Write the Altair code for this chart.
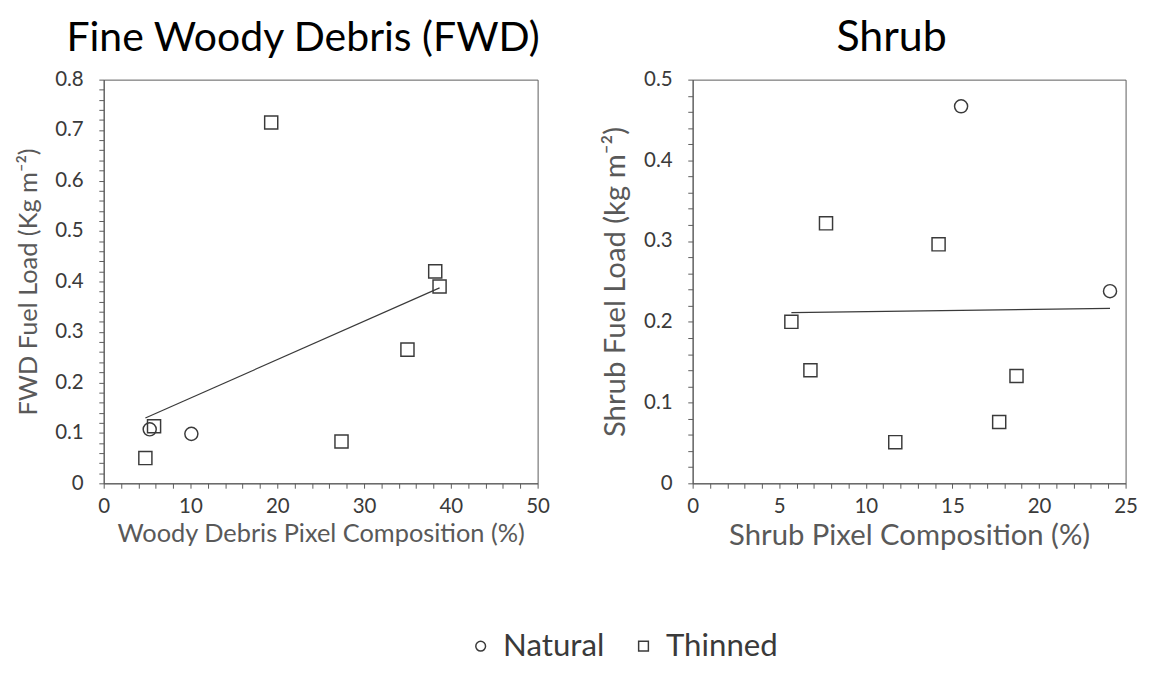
import altair as alt
import pandas as pd

# ---- data ----
groups = ["Thinned"] * 7 + ["Natural"] * 2
legend_labels = ["Natural", "Thinned"]
legend_shapes = ["circle", "square"]

fwd_x = [4.8, 5.8, 19.3, 27.4, 35.0, 38.2, 38.7, 5.3, 10.1]
fwd_y = [0.050, 0.113, 0.715, 0.083, 0.265, 0.420, 0.390, 0.107, 0.098]

shrub_x = [5.7, 6.8, 7.7, 11.7, 14.2, 17.7, 18.7, 15.5, 24.1]
shrub_y = [0.200, 0.140, 0.322, 0.051, 0.296, 0.076, 0.133, 0.467, 0.238]

fwd_x_ticks = [0, 2, 4, 6, 8, 10, 12, 14, 16, 18, 20, 22, 24, 26, 28, 30, 32, 34, 36, 38, 40, 42, 44, 46, 48, 50]
fwd_y_ticks = [round(i * 0.02, 2) for i in range(41)]
shrub_x_ticks = list(range(0, 26))
shrub_y_ticks = [round(i * 0.02, 2) for i in range(26)]

FONT = "Lato"
INK = "#3a3a3a"
AXIS = "#595959"

SHAPE_SCALE = alt.Scale(domain=legend_labels, range=legend_shapes)


def panel(xs, ys, title, xtitle, ytitle, xdom, ydom, xticks, yticks, xmaj, w, h,
          title_size, axis_title_size):
    df = pd.DataFrame({"x": xs, "y": ys, "group": groups})
    x_enc = alt.X(
        "x:Q",
        scale=alt.Scale(domain=xdom, nice=False, zero=True),
        axis=alt.Axis(
            values=xticks,
            labelExpr=f"datum.value % {xmaj} == 0 ? datum.label : ''",
            title=xtitle,
            titleFontSize=axis_title_size,
            titlePadding=5,
            labelPadding=8,
            labelFlush=False,
        ),
    )
    y_enc = alt.Y(
        "y:Q",
        scale=alt.Scale(domain=ydom, nice=False, zero=True),
        axis=alt.Axis(
            values=yticks,
            format="~g",
            labelExpr="round(datum.value * 100) % 10 == 0 ? datum.label : ''",
            title=ytitle,
            titleFontSize=axis_title_size,
            titlePadding=14,
            labelPadding=16,
        ),
    )
    base = alt.Chart(df)
    pts = base.mark_point(filled=False, size=180, strokeWidth=1.5, color=INK, opacity=1).encode(
        x=x_enc,
        y=y_enc,
        shape=alt.Shape("group:N", scale=SHAPE_SCALE, legend=None),
    )
    line = base.transform_regression("x", "y").mark_line(color=INK, strokeWidth=1.2).encode(
        x=x_enc, y=y_enc
    )
    return alt.layer(pts, line).properties(
        width=w,
        height=h,
        title=alt.TitleParams(
            title, fontSize=title_size, font=FONT, fontWeight="normal", color="black",
            anchor="middle", offset=9, dx=-18,
        ),
    )


left = panel(fwd_x, fwd_y, "Fine Woody Debris (FWD)", "Woody Debris Pixel Composition (%)",
             "FWD Fuel Load (Kg m⁻²)", [0, 50], [0, 0.8], fwd_x_ticks, fwd_y_ticks, 10,
             445, 414, 42, 26)
right = panel(shrub_x, shrub_y, "Shrub", "Shrub Pixel Composition (%)",
              "Shrub Fuel Load (kg m⁻²)", [0, 25], [0, 0.5], shrub_x_ticks, shrub_y_ticks, 5,
              444, 414, 44, 30)

# ---- key (Natural / Thinned) drawn from the category list ----
key_df = pd.DataFrame({"group": legend_labels})
key_x = alt.X("group:N", scale=alt.Scale(domain=legend_labels), axis=None)
key_base = alt.Chart(key_df)
key_pts = key_base.mark_point(
    filled=False, size=100, strokeWidth=1.5, color=INK, opacity=1, xOffset=-60
).encode(
    x=key_x,
    shape=alt.Shape("group:N", scale=SHAPE_SCALE, legend=None),
)
key_txt = key_base.mark_text(
    font=FONT, fontSize=32, color=INK, align="left", baseline="middle", dx=-37
).encode(
    x=key_x,
    text="group:N",
)
key = alt.layer(key_pts, key_txt).properties(
    width=334, height=30, view=alt.ViewBackground(stroke="transparent")
)

chart = (
    alt.vconcat(alt.hconcat(left, right, spacing=51), key, spacing=80, center=True)
    .properties(padding={"top": 0, "left": 7, "right": 5, "bottom": 0})
    .configure_view(stroke=AXIS, strokeWidth=1)
    .configure_axis(
        grid=False,
        domainColor=AXIS,
        tickColor=AXIS,
        tickSize=5,
        labelFont=FONT,
        labelFontSize=21,
        labelColor=INK,
        titleFont=FONT,
        titleFontWeight="normal",
        titleColor=AXIS,
    )
)

chart.save("out.html", embed_options={"renderer": "svg", "actions": False})
